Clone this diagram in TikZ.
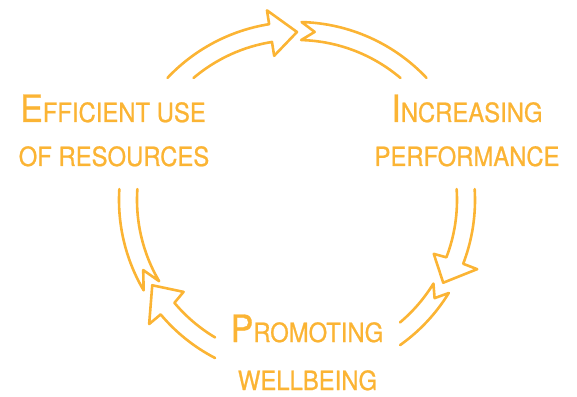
\documentclass[tikz,border=0pt]{standalone}
\usepackage{fontspec}
\newfontfamily\hand{TeX Gyre Heros}[FakeStretch=0.9,FakeBold=0.8]
\definecolor{amber}{RGB}{251,180,52}
\newcommand{\bigc}[1]{{\fontsize{37.6}{40}\selectfont #1}}
\tikzset{
  arrowline/.style={draw=amber, line width=2.6pt, line join=round, line cap=round},
  lbl/.style={text=amber, font=\hand\fontsize{26.5}{30}\selectfont, inner sep=0pt, anchor=base}
}
\begin{document}
\begin{tikzpicture}[x=1pt,y=1pt]
\useasboundingbox (0,0) rectangle (577,396);
\begin{scope}[shift={(297,196)}]
% Arrow 1: tail bottom-left, head at top
\draw[arrowline] (176.5:178pt) arc[start angle=176.5, end angle=210.5, radius=178pt]
  -- (204.5:169pt) -- (210.5:160pt) arc[start angle=210.5, end angle=176.1, radius=160pt];
\draw[arrowline] (136.7:178pt) arc[start angle=136.7, end angle=99, radius=178pt]
  -- (99:192pt) -- (90:168pt) -- (99:146pt) -- (99:160pt)
  arc[start angle=99, end angle=130.3, radius=160pt];
% Arrow 2: tail at top, head at right-bottom
\draw[arrowline] (43.3:178pt) arc[start angle=43.3, end angle=88.5, radius=178pt]
  -- (84:169pt) -- (88.5:160pt) arc[start angle=88.5, end angle=49.7, radius=160pt];
\draw[arrowline] (3.5:178pt) arc[start angle=3.5, end angle=-21, radius=178pt]
  -- (-21:193pt) -- (-29.5:168pt) -- (-21.5:147pt) -- (-21:160pt)
  arc[start angle=-21, end angle=3.9, radius=160pt];
% Arrow 3: tail at bottom-right, head at bottom-left
\draw[arrowline] (-54.6:178pt) arc[start angle=-54.6, end angle=-31.5, radius=178pt]
  -- (-35.5:169pt) -- (-31.5:160pt) arc[start angle=-31.5, end angle=-49.9, radius=160pt];
\draw[arrowline] (-117.4:178pt) arc[start angle=-117.4, end angle=-140, radius=178pt]
  -- (-140:193pt) -- (-149.5:168pt) -- (-141:146pt) -- (-140:160pt)
  arc[start angle=-140, end angle=-120.8, radius=160pt];
\end{scope}
% Labels
\node[lbl] (eff1) at (113,274) {\bigc{E}FFICIENT USE};
\node[lbl] (eff2) at (114,230) {OF RESOURCES};
\node[lbl] (inc1) at (467,274) {\bigc{I}NCREASING};
\node[lbl] (inc2) at (467,230) {PERFORMANCE};
\node[lbl] (pro1) at (307,54) {\bigc{P}ROMOTING};
\node[lbl] (pro2) at (307.5,6) {WELLBEING};
\end{tikzpicture}
\end{document}
